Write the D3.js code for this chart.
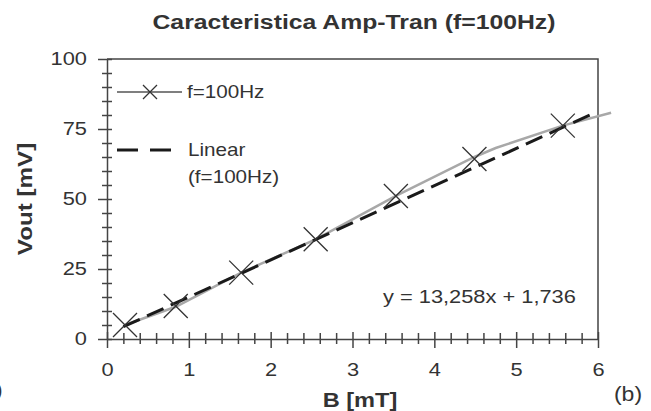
<!DOCTYPE html>
<html>
<head>
<meta charset="utf-8">
<script src="https://cdnjs.cloudflare.com/ajax/libs/d3/7.8.5/d3.min.js"></script>
<style>
  body { margin: 0; background: #fff; }
  svg { display: block; font-family: "Liberation Sans", Arial, sans-serif; }
</style>
</head>
<body>
<svg id="chart" width="651" height="411"></svg>
<script>
// valores
const bVals    = [0.22, 0.84, 1.64, 2.55, 3.53, 4.49, 5.57];
const voutVals = [5.0, 11.8, 23.7, 35.6, 51.1, 64.3, 76.2];
// linea gris (serie + prolongacion)
const curvaB    = [0.22, 0.84, 1.64, 2.55, 3.53, 4.49, 4.75, 5.57, 6.16];
const curvaVout = [5.0, 11.5, 23.7, 35.6, 51.1, 65.0, 68.2, 76.2, 80.8];
// ajuste lineal
const pendiente = 13.258, ordenada = 1.736;
const rangoLineal = [0.2, 5.9];
const xTicks = [0, 1, 2, 3, 4, 5, 6];
const yTicks = [0, 25, 50, 75, 100];

const sx = 1.18; // el original esta algo ensanchado
const colTexto = '#333';

const svg = d3.select('#chart');
const margin = {left: 107, top: 59, right: 53, bottom: 72};
const W = 651 - margin.left - margin.right;
const H = 411 - margin.top - margin.bottom;

const x = d3.scaleLinear().domain([0, 6]).range([0, W]);
const y = d3.scaleLinear().domain([0, 100]).range([H, 0]);

function texto(g, tx, ty, str, size, weight, anchor) {
    return g.append('text')
        .attr('transform', 'translate(' + tx + ',' + ty + ') scale(' + sx + ',1)')
        .attr('text-anchor', anchor || 'start')
        .attr('dominant-baseline', 'central')
        .style('font-size', size + 'px')
        .style('font-weight', weight || 'normal')
        .style('fill', colTexto)
        .text(str);
}

// titulo y etiquetas
texto(svg, 354, 22, 'Caracteristica Amp-Tran (f=100Hz)', 21, 'bold', 'middle');
texto(svg, 360, 400, 'B [mT]', 20, 'bold', 'middle');
svg.append('text')
    .attr('transform', 'translate(25,' + (margin.top + H / 2) + ') rotate(-90) scale(' + sx + ',1)')
    .attr('text-anchor', 'middle')
    .attr('dominant-baseline', 'central')
    .style('font-size', '20.5px').style('font-weight', 'bold').style('fill', colTexto)
    .text('Vout [mV]');
texto(svg, 628, 395, '(b)', 19.5, 'normal', 'middle');
texto(svg, -5, 391, ')', 19.5, 'normal', 'start');

let todo = svg.append('g').attr('transform', 'translate(' + margin.left + ',' + margin.top + ')');

// marco
todo.append('path')
    .attr('d', 'M0,0H' + W + 'V' + H)
    .attr('fill', 'none').attr('stroke', '#444').attr('stroke-width', 1.5);

// ejes menores
const xMenor = d3.range(0, 30).map(i => i * 0.2).filter(v => !xTicks.includes(Math.round(v * 10) / 10));
const yMenor = d3.range(0, 20).map(i => i * 5).filter(v => v % 25 !== 0);

let ejeXmenor = todo.append('g').attr('transform', 'translate(0,' + H + ')')
    .call(d3.axisBottom(x).tickValues(xMenor).tickSize(5).tickFormat(''));
ejeXmenor.selectAll('line').attr('y1', -6);
ejeXmenor.select('.domain').remove();

let ejeYmenor = todo.append('g')
    .call(d3.axisLeft(y).tickValues(yMenor).tickSize(5).tickFormat(''));
ejeYmenor.selectAll('line').attr('x1', 5);
ejeYmenor.select('.domain').remove();

// ejes principales
let ejeX = todo.append('g').attr('transform', 'translate(0,' + H + ')')
    .call(d3.axisBottom(x).tickValues(xTicks).tickSize(9).tickSizeOuter(0).tickPadding(15).tickFormat(d3.format('d')));
ejeX.selectAll('line').attr('y1', -7);

let ejeY = todo.append('g')
    .call(d3.axisLeft(y).tickValues(yTicks).tickSize(9).tickSizeOuter(0).tickPadding(8).tickFormat(d3.format('d')));
ejeY.selectAll('line').attr('x1', 5);

[ejeX, ejeY, ejeXmenor, ejeYmenor].forEach(e => {
    e.selectAll('line').attr('stroke', '#444').attr('stroke-width', 1.5);
    e.selectAll('.domain').attr('stroke', '#444').attr('stroke-width', 1.5);
});
[ejeX, ejeY].forEach(e => {
    e.selectAll('text')
        .style('font-size', '18.5px')
        .style('font-family', '"Liberation Sans", Arial, sans-serif')
        .attr('fill', colTexto)
        .attr('transform', 'scale(' + sx + ',1)');
});
ejeX.selectAll('text').attr('dy', '0.71em');

// linea gris de la serie
const datosCurva = curvaB.map((b, i) => ({b: b, v: curvaVout[i]}));
todo.append('path')
    .datum(datosCurva)
    .attr('fill', 'none')
    .attr('stroke', '#a8a8a8')
    .attr('stroke-width', 2.5)
    .attr('d', d3.line().x(d => x(d.b)).y(d => y(d.v)));

// linea de ajuste (discontinua)
todo.append('path')
    .datum(rangoLineal)
    .attr('fill', 'none')
    .attr('stroke', '#1a1a1a')
    .attr('stroke-width', 3)
    .attr('stroke-dasharray', '18,8')
    .attr('d', d3.line().x(d => x(d)).y(d => y(pendiente * d + ordenada)));

// marcadores X
function cruz(g, cx, cy, r, w) {
    g.append('path')
        .attr('d', 'M' + (cx - r) + ',' + (cy - r) + 'L' + (cx + r) + ',' + (cy + r) +
                   'M' + (cx - r) + ',' + (cy + r) + 'L' + (cx + r) + ',' + (cy - r))
        .attr('stroke', '#333').attr('stroke-width', w).attr('fill', 'none');
}
let marcas = todo.append('g').attr('id', 'marcas');
bVals.forEach((b, i) => cruz(marcas, x(b), y(voutVals[i]), 12, 1.3));

// ecuacion
texto(todo, 383 - margin.left, 297 - margin.top, 'y = 13,258x + 1,736', 18.5, 'normal', 'start');

// leyenda
let legend = svg.append('g').attr('id', 'legend');
legend.append('line').attr('x1', 117).attr('x2', 182).attr('y1', 92).attr('y2', 92)
    .attr('stroke', '#555').attr('stroke-width', 1.5);
cruz(legend, 150, 92, 7, 1.3);
texto(legend, 187, 92, 'f=100Hz', 17.5);
legend.append('line').attr('x1', 117).attr('x2', 173).attr('y1', 150).attr('y2', 150)
    .attr('stroke', '#1a1a1a').attr('stroke-width', 3).attr('stroke-dasharray', '21,12');
texto(legend, 188, 150, 'Linear', 17.5);
texto(legend, 188, 177, '(f=100Hz)', 17.5);
</script>
</body>
</html>
